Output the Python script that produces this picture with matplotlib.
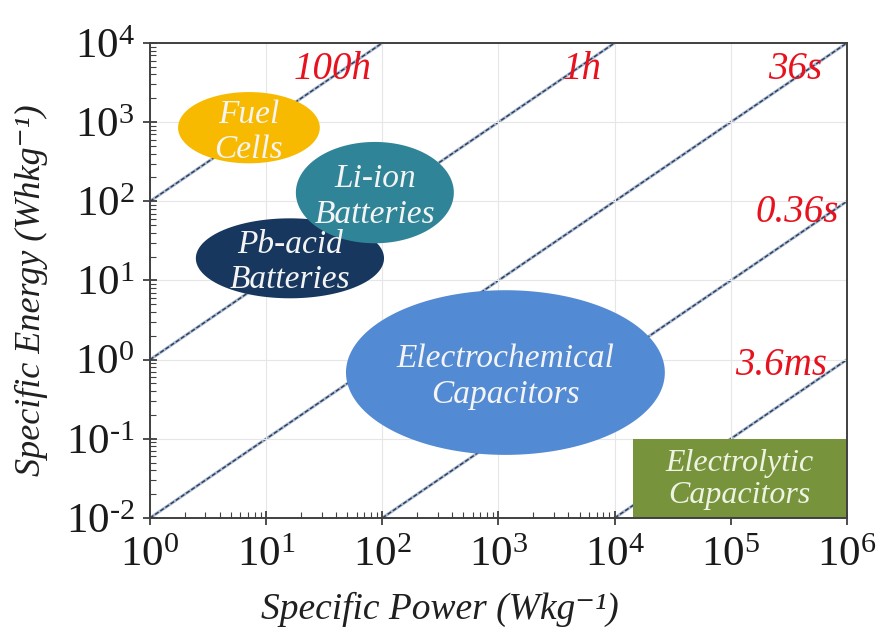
import numpy as np
import matplotlib
matplotlib.use("Agg")
import matplotlib.pyplot as plt
from matplotlib.ticker import LogLocator, FixedLocator

plt.rcParams['mathtext.fontset'] = 'custom'
plt.rcParams['mathtext.rm'] = 'Liberation Serif'
plt.rcParams['mathtext.it'] = 'Liberation Serif:italic'
plt.rcParams['font.family'] = ['Liberation Serif', 'DejaVu Serif']

# ---- data ----
time_labels = ["100h", "1h", "36s", "0.36s", "3.6ms"]
time_hours = [100, 1, 0.01, 1e-4, 1e-6]
time_label_x = [10**1.575, 10**3.72, 10**5.55, 10**5.57, 10**5.43]
time_label_y = [10**3.66, 10**3.66, 10**3.66, 10**1.86, 10**-0.07]

region_names = ["Fuel\nCells", "Pb-acid\nBatteries", "Li-ion\nBatteries",
                "Electrochemical\nCapacitors"]
region_cx = [10**0.852, 10**1.205, 10**1.936, 10**3.06]     # W/kg
region_cy = [10**2.93, 10**1.28, 10**2.11, 10**-0.163]      # Wh/kg
region_wdec = [1.22, 1.62, 1.36, 2.745]   # width in decades
region_hdec = [0.90, 1.01, 1.28, 2.08]    # height in decades
region_colors = ["#F7BA00", "#17375E", "#2F8597", "#528AD3"]

electrolytic_name = "Electrolytic\nCapacitors"
electrolytic_x = [10**4.157, 1e6]
electrolytic_y = [1e-2, 1e-1]
electrolytic_color = "#77933C"

xticks_exp = [0, 1, 2, 3, 4, 5, 6]
yticks_exp = [-2, -1, 0, 1, 2, 3, 4]

xlim = (1, 1e6)
ylim = (1e-2, 1e4)

fig = plt.figure(figsize=(8.78, 6.33), dpi=100)
ax = fig.add_axes([0.1708, 0.1817, 0.7938, 0.7504])
ax.set_xscale('log')
ax.set_yscale('log')
ax.set_xlim(*xlim)
ax.set_ylim(*ylim)

ax.grid(True, which='major', color='#E6E6E6', lw=0.8, zorder=0)

# diagonal time-constant lines
P = np.logspace(0, 6, 400)
for t in time_hours:
    E = P * t
    ax.plot(P, E, color='#A9B9CF', lw=2.2, zorder=1, solid_capstyle='butt')
    ax.plot(P, E, color='#2A3A5A', lw=1.0, ls=(0, (3, 1.5)), zorder=1.1)

for lab_, x, y in zip(time_labels, time_label_x, time_label_y):
    ax.text(x, y, lab_, color='#E8121E', fontsize=28, style='italic',
            ha='center', va='center', zorder=5)

# ellipses drawn in log space
th = np.linspace(0, 2*np.pi, 300)
for name, cx, cy, w, h, c in zip(region_names, region_cx, region_cy,
                                 region_wdec, region_hdec, region_colors):
    lx = np.log10(cx) + w/2*np.cos(th)
    ly = np.log10(cy) + h/2*np.sin(th)
    ax.fill(10**lx, 10**ly, color=c, zorder=3, lw=0)
    ax.annotate(name, (cx, cy), xytext=(0, -3), textcoords='offset points',
                color='#F4F4F4', fontsize=24, style='italic',
                ha='center', va='center', linespacing=1.2, zorder=4)

ax.fill([electrolytic_x[0], electrolytic_x[1], electrolytic_x[1], electrolytic_x[0]],
        [electrolytic_y[0], electrolytic_y[0], electrolytic_y[1], electrolytic_y[1]],
        color=electrolytic_color, zorder=3, lw=0)
ax.annotate(electrolytic_name,
            (np.sqrt(electrolytic_x[0]*electrolytic_x[1]),
             np.sqrt(electrolytic_y[0]*electrolytic_y[1])),
            xytext=(0, -1), textcoords='offset points',
            color='#EEF3E2', fontsize=23, style='italic',
            ha='center', va='center', linespacing=1.15, zorder=4)

for s in ax.spines.values():
    s.set_color('#404040')
    s.set_linewidth(1.4)
    s.set_zorder(6)

ax.xaxis.set_major_locator(FixedLocator([10.0**k for k in xticks_exp]))
ax.yaxis.set_major_locator(FixedLocator([10.0**k for k in yticks_exp]))
ax.xaxis.set_minor_locator(LogLocator(base=10, subs=np.arange(2, 10), numticks=20))
ax.yaxis.set_minor_locator(LogLocator(base=10, subs=np.arange(2, 10), numticks=20))
ax.tick_params(which='major', direction='inout', length=10, width=1.2,
               labelsize=31, colors='#303030', labelcolor='#1A1A1A',
               top=False, right=False)
ax.tick_params(which='minor', direction='in', length=4, width=0.8,
               colors='#404040', top=False, right=False)
ax.tick_params(axis='x', which='major', pad=8)
ax.tick_params(axis='y', which='major', pad=6)


def lab(k):
    if k < 0:
        return r'$10^{\text{-}%d}$' % (-k)
    return r'$10^{%d}$' % k


ax.set_xticklabels([lab(k) for k in xticks_exp])
ax.set_yticklabels([lab(k) for k in yticks_exp])

ax.set_xlabel('Specific Power (Wkg⁻¹)', fontsize=27,
              style='italic', color='#202020')
ax.set_ylabel('Specific Energy (Whkg⁻¹)', fontsize=26,
              style='italic', color='#202020')
ax.xaxis.set_label_coords(0.416, -0.155)
ax.yaxis.set_label_coords(-0.146, 0.48)

fig.savefig('out.png', dpi=100)
